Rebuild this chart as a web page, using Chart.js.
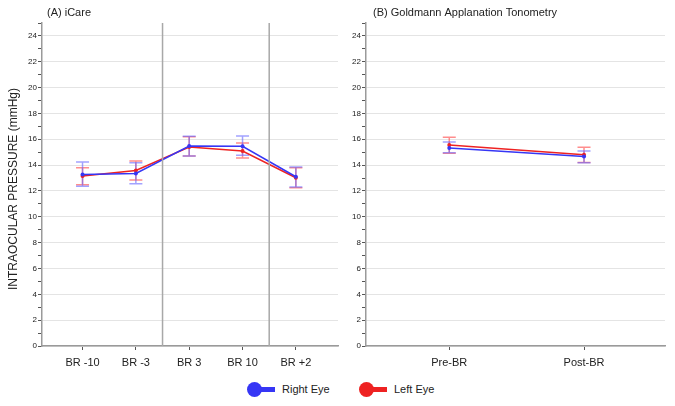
<!DOCTYPE html>
<html>
<head>
<meta charset="utf-8">
<script src="https://cdn.jsdelivr.net/npm/chart.js@4/dist/chart.umd.min.js"></script>
<style>
  body { margin: 0; background: #fff; font-family: "Liberation Sans", Arial, sans-serif; }
  #wrap { position: relative; width: 675px; height: 406px; }
  canvas { position: absolute; top: 0; }
  #legend { position: absolute; top: 380px; left: 0; width: 675px; height: 20px; font-size: 11px; color: #222; }
  .item { position: absolute; top: 2px; height: 16px; }
  .dot { position: absolute; top: 0; left: 0; width: 15px; height: 15px; border-radius: 50%; }
  .bar { position: absolute; top: 5px; left: 7px; width: 21px; height: 5px; }
  .lbl { position: absolute; top: 1px; left: 35px; white-space: nowrap; }
</style>
</head>
<body>
<div id="wrap">
  <canvas id="chartA" width="342" height="375" style="left:0"></canvas>
  <canvas id="chartB" width="333" height="375" style="left:342px"></canvas>
  <div id="legend">
    <div class="item" style="left:247px"><div class="bar" style="background:#3636f5"></div><div class="dot" style="background:#3636f5"></div><span class="lbl">Right Eye</span></div>
    <div class="item" style="left:359px"><div class="bar" style="background:#ee2222"></div><div class="dot" style="background:#ee2222"></div><span class="lbl">Left Eye</span></div>
  </div>
</div>
<script>
//panel A data (iCare)
var catsA = ['BR -10', 'BR -3', 'BR 3', 'BR 10', 'BR +2'];
var rightA = [13.28, 13.36, 15.48, 15.46, 13.10];
var rightALo = [12.37, 12.56, 14.70, 14.76, 12.30];
var rightAHi = [14.24, 14.19, 16.23, 16.26, 13.85];
var leftA = [13.15, 13.59, 15.40, 15.09, 13.02];
var leftALo = [12.48, 12.84, 14.70, 14.55, 12.25];
var leftAHi = [13.80, 14.32, 16.20, 15.71, 13.80];
var sepA = [1.5, 3.5];

//panel B data (Goldmann)
var catsB = ['Pre-BR', 'Post-BR'];
var rightB = [15.33, 14.66];
var rightBLo = [14.96, 14.19];
var rightBHi = [15.79, 15.09];
var leftB = [15.56, 14.81];
var leftBLo = [14.91, 14.20];
var leftBHi = [16.16, 15.38];

var blue = '#3636f5';
var red = '#ee2222';
var blueErr = 'rgba(100,100,255,0.6)';
var redErr = 'rgba(255,80,80,0.65)';
var fontFam = '"Liberation Sans", Arial, sans-serif';

function points(vals, offset) {
	return vals.map(function(v, i){ return {x: i + offset, y: v}; });
}

//error bars, drawn under the lines
var errorBars = {
	id: 'errorBars',
	beforeDatasetsDraw: function(chart) {
		var ctx = chart.ctx;
		var xs = chart.scales.x, ys = chart.scales.y;
		chart.data.datasets.forEach(function(ds){
			ctx.save();
			ctx.strokeStyle = ds.errColor;
			ctx.lineWidth = 1.5;
			ds.data.forEach(function(p, i){
				var px = xs.getPixelForValue(p.x);
				var top = ys.getPixelForValue(ds.hi[i]);
				var bot = ys.getPixelForValue(ds.lo[i]);
				ctx.beginPath();
				ctx.moveTo(px, top); ctx.lineTo(px, bot);
				ctx.moveTo(px - 6.5, top); ctx.lineTo(px + 6.5, top);
				ctx.moveTo(px - 6.5, bot); ctx.lineTo(px + 6.5, bot);
				ctx.stroke();
			});
			ctx.restore();
		});
	}
};

//panel title and separator lines
var decor = {
	id: 'decor',
	afterDraw: function(chart, args, opts) {
		var ctx = chart.ctx;
		var area = chart.chartArea;
		ctx.save();
		ctx.fillStyle = '#222';
		ctx.font = '11px ' + fontFam;
		ctx.textBaseline = 'middle';
		ctx.fillText(opts.title, area.left + opts.titleDx, 13);
		ctx.strokeStyle = '#a8a8a8';
		ctx.lineWidth = 1.5;
		(opts.seps || []).forEach(function(s){
			var px = chart.scales.x.getPixelForValue(s);
			ctx.beginPath();
			ctx.moveTo(px, area.top);
			ctx.lineTo(px, area.bottom);
			ctx.stroke();
		});
		if (opts.yTitle) {
			ctx.font = '12px ' + fontFam;
			ctx.textAlign = 'center';
			ctx.translate(14, 189);
			ctx.rotate(-Math.PI / 2);
			ctx.fillText(opts.yTitle, 0, 0);
		}
		ctx.restore();
	}
};

function makeChart(id, cats, right, rLo, rHi, left, lLo, lHi, xmin, xmax, yWidth, padRight, title, titleDx, seps, yTitle) {
	var ctx = document.getElementById(id);
	return new Chart(ctx, {
		type: 'line',
		data: {
			datasets: [
				{ label: 'Left Eye', data: points(left, 0), lo: lLo, hi: lHi, errColor: redErr,
				  borderColor: red, backgroundColor: red, borderWidth: 1.5, pointRadius: 2, pointBorderWidth: 0, order: 2 },
				{ label: 'Right Eye', data: points(right, 0), lo: rLo, hi: rHi, errColor: blueErr,
				  borderColor: blue, backgroundColor: blue, borderWidth: 1.5, pointRadius: 2, pointBorderWidth: 0, order: 1 }
			]
		},
		options: {
			responsive: false,
			animation: false,
			devicePixelRatio: 1,
			layout: { padding: { top: 23, right: padRight, left: 0, bottom: 0 } },
			plugins: {
				legend: { display: false },
				tooltip: { enabled: false },
				decor: { title: title, titleDx: titleDx, seps: seps, yTitle: yTitle }
			},
			scales: {
				x: {
					type: 'linear',
					min: xmin,
					max: xmax,
					afterBuildTicks: function(scale){
						scale.ticks = cats.map(function(c, i){ return {value: i}; });
					},
					afterFit: function(scale){ scale.height = 29; },
					ticks: {
						autoSkip: false,
						maxRotation: 0,
						padding: 6,
						color: '#222',
						font: { family: fontFam, size: 11 },
						callback: function(v){ return cats[Math.round(v)]; }
					},
					grid: { drawOnChartArea: false, drawTicks: true, tickLength: 4, tickColor: '#555' },
					border: { color: '#9a9a9a', width: 1.5 }
				},
				y: {
					min: 0,
					max: 25,
					afterFit: function(scale){ scale.width = yWidth; },
					ticks: {
						stepSize: 1,
						autoSkip: false,
						padding: 1,
						color: '#222',
						font: { family: fontFam, size: 8 },
						callback: function(v){ return v % 2 === 0 ? v : ''; }
					},
					grid: {
						color: function(c){ return (c.tick && c.tick.value % 2 === 0) ? '#e4e4e4' : 'rgba(0,0,0,0)'; },
						lineWidth: 1,
						tickLength: 4,
						tickColor: '#555'
					},
					border: { color: '#9a9a9a', width: 1.5 }
				}
			}
		},
		plugins: [errorBars, decor]
	});
}

makeChart('chartA', catsA, rightA, rightALo, rightAHi, leftA, leftALo, leftAHi,
	-0.76, 4.79, 42, 0, '(A) iCare', 5, sepA, 'INTRAOCULAR PRESSURE (mmHg)');
makeChart('chartB', catsB, rightB, rightBLo, rightBHi, leftB, leftBLo, leftBHi,
	-0.618, 1.601, 24, 10, '(B) Goldmann Applanation Tonometry', 7, [], '');
</script>
</body>
</html>
